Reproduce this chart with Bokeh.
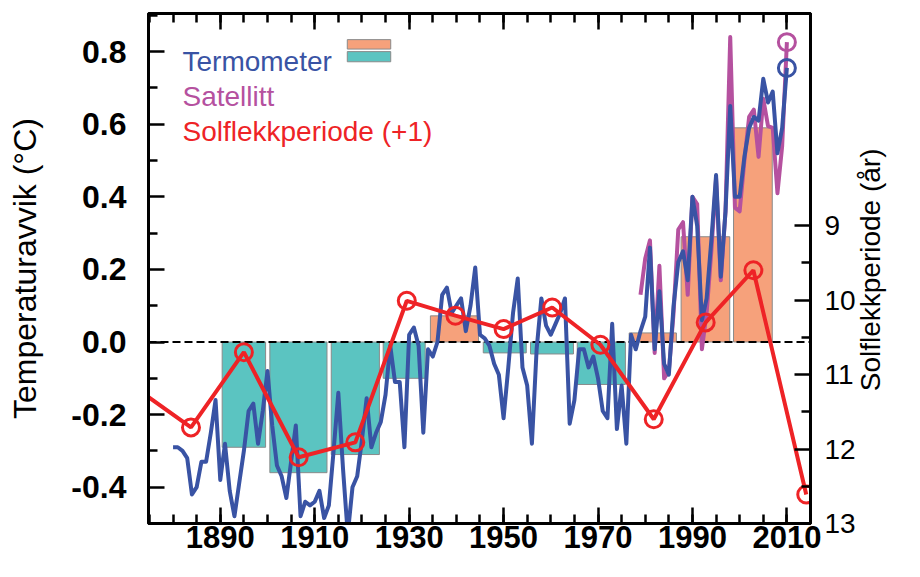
import math
from bokeh.plotting import figure
from bokeh.models import Range1d, LinearAxis, FixedTicker, Span, Label, NumeralTickFormatter, CustomJSTickFormatter
from bokeh.embed import file_html
from bokeh.resources import INLINE

# ---------------- data ----------------
years = list(range(1880, 2011))
thermo = [
    -0.29, -0.29, -0.30, -0.32, -0.42, -0.40, -0.33, -0.33, -0.25, -0.16,   # 1880s
    -0.38, -0.28, -0.41, -0.48, -0.39, -0.30, -0.19, -0.17, -0.28, -0.19,   # 1890s
    -0.08, -0.23, -0.34, -0.37, -0.43, -0.33, -0.23, -0.48, -0.44, -0.45,   # 1900s
    -0.44, -0.41, -0.485, -0.45, -0.30, -0.14, -0.35, -0.53, -0.40, -0.37,  # 1910s
    -0.27, -0.155, -0.29, -0.25, -0.22, -0.145, -0.01, -0.11, -0.11, -0.29, # 1920s
    0.02, 0.04, -0.01, -0.25, -0.02, -0.04, 0.00, 0.13, 0.15, 0.08,         # 1930s
    0.10, 0.12, 0.03, 0.10, 0.205, 0.02, 0.01, -0.01, -0.06, -0.09,         # 1940s
    -0.21, -0.07, 0.08, 0.175, -0.07, -0.12, -0.28, -0.02, 0.12, 0.045,     # 1950s
    0.02, 0.05, 0.08, 0.12, -0.225, -0.16, -0.02, -0.02, -0.07, -0.04,      # 1960s
    -0.10, -0.19, -0.21, 0.05, -0.24, -0.12, -0.28, 0.02, -0.02, 0.03,      # 1970s
    0.07, 0.26, -0.02, 0.14, -0.06, -0.09, 0.10, 0.22, 0.25, 0.17,          # 1980s
    0.40, 0.32, 0.06, 0.12, 0.28, 0.46, 0.18, 0.36, 0.65, 0.40,             # 1990s
    0.40, 0.51, 0.59, 0.62, 0.61, 0.725, 0.66, 0.69, 0.52, 0.59,            # 2000s
    0.755,                                                                  # 2010
]

sat_years = list(range(1979, 2011))
satellite = [
    0.13, 0.23, 0.28, -0.03, 0.21, -0.10, -0.08, 0.08, 0.31, 0.33,
    0.13, 0.40, 0.38, -0.02, 0.08, 0.25, 0.45, 0.17, 0.36, 0.84,
    0.37, 0.36, 0.50, 0.62, 0.64, 0.51, 0.67, 0.595, 0.59, 0.41,
    0.54, 0.826,
]

# period means (teal below zero, orange above)
bar_start = [1890.4, 1900.5, 1913.5, 1924.5, 1934.5, 1945.7, 1955.7, 1965.6, 1976.6, 1987.6, 1998.7]
bar_end   = [1899.6, 1912.6, 1923.7, 1933.4, 1944.7, 1954.8, 1964.8, 1975.8, 1986.6, 1997.9, 2006.9]
bar_value = [-0.29, -0.36, -0.31, -0.10, 0.072, -0.03, -0.033, -0.117, 0.025, 0.29, 0.59]

sun_years  = [1872.5, 1883.8, 1895.0, 1906.6, 1918.6, 1929.5, 1939.8, 1950.0, 1960.3, 1970.5, 1981.8, 1992.8, 2002.9, 2014.1]
sun_period = [11.2, 11.71, 10.70, 12.11, 11.91, 10.01, 10.21, 10.39, 10.10, 10.60, 11.60, 10.30, 9.60, 12.61]

x_major = [1890, 1910, 1930, 1950, 1970, 1990, 2010]
x_minor = list(range(1875, 2016, 5))
y_major = [-0.4, -0.2, 0.0, 0.2, 0.4, 0.6, 0.8]
y_minor = [-0.5, -0.3, -0.1, 0.1, 0.3, 0.5, 0.7, 0.9]
p_major = [9, 10, 11, 12, 13]
p_minor = [9.5, 10.5, 11.5, 12.5]

RIGHT_TITLE = "Solflekkperiode (år)"

# ---------------- style ----------------
BLUE = "#3953A4"
PURPLE = "#B5519F"
RED = "#EE2326"
TEAL = "#5BC4C1"
ORANGE = "#F6A17B"
FONT = "Liberation Sans"

X0, X1 = 1874.8, 2015.0
Y0, Y1 = -0.5, 0.905

p = figure(width=904, height=561,
           x_range=Range1d(X0, X1), y_range=Range1d(Y0, Y1),
           output_backend="svg", toolbar_location=None,
           x_axis_location=None, y_axis_location=None,
           min_border_left=148, min_border_right=94,
           min_border_top=13, min_border_bottom=38)
p.extra_y_ranges = {"period": Range1d(13.0, 6.153), "ttl": Range1d(0, 1)}
p.outline_line_color = "black"
p.outline_line_width = 3
p.background_fill_color = "white"
p.border_fill_color = "white"
p.grid.grid_line_color = None


def style(ax, label_size="32px", bold=True):
    ax.axis_line_width = 3
    ax.axis_line_color = "black"
    ax.major_tick_in = 16
    ax.major_tick_out = 0
    ax.minor_tick_in = 9
    ax.minor_tick_out = 0
    ax.major_tick_line_width = 2.5
    ax.minor_tick_line_width = 2.5
    ax.major_label_text_font = FONT
    ax.major_label_text_font_size = label_size
    ax.major_label_text_font_style = "bold" if bold else "normal"
    ax.major_label_text_color = "black"
    ax.axis_label_text_font = FONT
    ax.axis_label_text_font_style = "normal"
    ax.axis_label_text_color = "black"


bottom = LinearAxis(ticker=FixedTicker(ticks=x_major, minor_ticks=x_minor))
style(bottom, label_size="31px")
bottom.major_label_standoff = 2
p.add_layout(bottom, "below")

top = LinearAxis(ticker=FixedTicker(ticks=x_major, minor_ticks=x_minor),
                 formatter=CustomJSTickFormatter(code="return ''"))
style(top)
top.major_label_text_font_size = "0px"
top.major_label_standoff = 0
p.add_layout(top, "above")

left = LinearAxis(ticker=FixedTicker(ticks=y_major, minor_ticks=y_minor),
                  formatter=NumeralTickFormatter(format="0.0"),
                  axis_label="Temperaturavvik (°C)")
style(left)
left.major_label_standoff = 22
left.axis_label_text_font_size = "32px"
left.axis_label_standoff = 25
p.add_layout(left, "left")

right = LinearAxis(y_range_name="period",
                   ticker=FixedTicker(ticks=p_major, minor_ticks=p_minor))
style(right, label_size="28px", bold=False)
right.major_label_standoff = 14
p.add_layout(right, "right")

# right-hand title: tick-less axis, text reads bottom-to-top, started from the frame bottom
# and pushed up with non-breaking spaces so that it sits centred on the frame
title_axis = LinearAxis(y_range_name="ttl", ticker=FixedTicker(ticks=[]),
                        axis_label="\u00a0" * 17 + RIGHT_TITLE)
title_axis.axis_line_color = None
title_axis.major_tick_line_color = None
title_axis.minor_tick_line_color = None
title_axis.major_tick_in = 0
title_axis.major_tick_out = 0
title_axis.minor_tick_in = 0
title_axis.minor_tick_out = 0
title_axis.major_label_standoff = 0
title_axis.axis_label_text_font = FONT
title_axis.axis_label_text_font_size = "28px"
title_axis.axis_label_text_font_style = "normal"
title_axis.axis_label_text_color = "black"
title_axis.axis_label_standoff = 12
title_axis.axis_label_orientation = math.pi / 2
if "axis_label_align" in title_axis.properties():
    title_axis.axis_label_align = "start"
p.add_layout(title_axis, "right")

# bars
bar_colors = [ORANGE if v > 0 else TEAL for v in bar_value]
bars = p.quad(left=bar_start, right=bar_end, bottom=[0] * len(bar_value), top=bar_value,
              fill_color=bar_colors, line_color="#8a8a8a", line_width=1)
bars.level = "underlay"

zero = Span(location=0, dimension="width", line_color="black", line_width=2,
            line_dash="8 4", level="underlay")
p.add_layout(zero)

# lines
p.line(sat_years, satellite, line_color=PURPLE, line_width=4, line_join="round")
p.line(years, thermo, line_color=BLUE, line_width=4, line_join="round")
p.line(sun_years, sun_period, y_range_name="period", line_color=RED, line_width=4)
p.scatter(sun_years, sun_period, y_range_name="period", marker="circle", size=17,
          fill_color=None, line_color=RED, line_width=3)
p.scatter([sat_years[-1]], [satellite[-1]], marker="circle", size=17,
          fill_color=None, line_color=PURPLE, line_width=3)
p.scatter([years[-1]], [thermo[-1]], marker="circle", size=17,
          fill_color=None, line_color=BLUE, line_width=3)

# legend
legend_x = 1882.0
legend_items = [("Termometer", BLUE, 0.774), ("Satellitt", PURPLE, 0.676), ("Solflekkperiode (+1)", RED, 0.580)]
for txt, col, yy in legend_items:
    p.add_layout(Label(x=legend_x, y=yy, text=txt, text_color=col, text_font=FONT,
                       text_font_size="28px", text_baseline="alphabetic", text_align="left"))
sw_left, sw_right = 1916.9, 1926.1
p.quad(left=[sw_left], right=[sw_right], bottom=[0.807], top=[0.833],
       fill_color=ORANGE, line_color="#8a8a8a", line_width=1)
p.quad(left=[sw_left], right=[sw_right], bottom=[0.772], top=[0.800],
       fill_color=TEAL, line_color="#8a8a8a", line_width=1)

open("out.html", "w").write(file_html(p, INLINE))
